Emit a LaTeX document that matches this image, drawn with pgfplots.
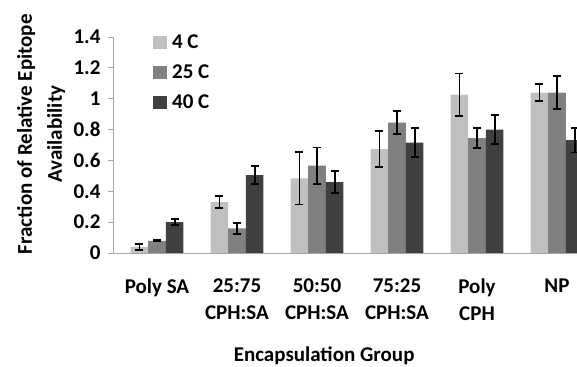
\documentclass[border=0pt]{standalone}
\usepackage{pgfplots}
\pgfplotsset{compat=1.18}
\usepackage{pgfplotstable}
\usepackage{fontspec}
\setmainfont{Carlito}
\definecolor{cA}{HTML}{C0C0C0}
\definecolor{cB}{HTML}{808080}
\definecolor{cC}{HTML}{404040}
\definecolor{axgray}{HTML}{A6A6A6}
\pgfplotstableread{
x y e
0 0.040 0.018
1 0.330 0.038
2 0.484 0.170
3 0.674 0.118
4 1.026 0.138
5 1.039 0.056
}\tA
\pgfplotstableread{
x y e
0 0.078 0.004
1 0.160 0.035
2 0.566 0.118
3 0.845 0.073
4 0.745 0.066
5 1.039 0.108
}\tB
\pgfplotstableread{
x y e
0 0.200 0.020
1 0.505 0.058
2 0.460 0.071
3 0.715 0.093
4 0.800 0.092
5 0.732 0.080
}\tC
\pgfplotsset{errstyle/.style={error bars/.cd, y dir=both, y explicit,
  error bar style={black, line width=1.8pt},
  error mark options={rotate=90, mark size=4pt, black, line width=1.8pt}}}
\begin{document}
\begin{tikzpicture}
\useasboundingbox (0,0) rectangle (577pt,366pt);
\begin{axis}[
  at={(113pt,113pt)}, anchor=south west,
  scale only axis, width=464pt, height=216pt,
  ybar=0pt, bar width=0.22,
  xmin=-0.55, xmax=5.25, ymin=0, ymax=1.4,
  axis x line=bottom, axis y line=left,
  axis line style={axgray, line width=0.8pt, -},
  xtick={0,1,2,3,4,5},
  xticklabels={{Poly SA},{25:75\\CPH:SA},{50:50\\CPH:SA},{75:25\\CPH:SA},{Poly\\CPH},{NP}},
  x tick style={draw=none},
  xticklabel style={align=center, anchor=north, yshift=-17pt, font=\fontsize{21}{27}\selectfont\bfseries},
  ytick={0,0.2,0.4,0.6,0.8,1,1.2,1.4},
  yticklabels={0,0.2,0.4,0.6,0.8,1,1.2,1.4},
  y tick style={axgray, line width=0.8pt},
  major tick length=5pt, tick align=outside,
  yticklabel style={xshift=-4pt, font=\fontsize{21}{25}\selectfont\bfseries},
  ylabel={Fraction of Relative Epitope\\Availability},
  ylabel style={at={(axis description cs:-0.155,0.55)}, anchor=center, align=center, font=\fontsize{21}{30}\selectfont\bfseries},
  xlabel={Encapsulation Group},
  xlabel style={at={(axis description cs:0.455,-0.475)}, anchor=center, font=\fontsize{21}{25}\selectfont\bfseries},
  legend style={at={(axis description cs:0.086,1.045)}, anchor=north west, draw=none, fill=none,
    font=\fontsize{21}{25}\selectfont\bfseries, inner sep=0pt,
    nodes={inner sep=0pt, anchor=west}},
  legend cell align=left,
  legend image code/.code={\path[fill=none,draw=none] (0pt,-15pt) rectangle (19pt,15pt);\fill[#1] (0pt,-6.5pt) rectangle (14pt,6.5pt);},
]
\addplot[fill=cA, draw=none, errstyle] table[x=x, y=y, y error=e] {\tA};
\addplot[fill=cB, draw=none, errstyle] table[x=x, y=y, y error=e] {\tB};
\addplot[fill=cC, draw=none, errstyle] table[x=x, y=y, y error=e] {\tC};
\legend{4 C, 25 C, 40 C}
\end{axis}
\end{tikzpicture}
\end{document}
